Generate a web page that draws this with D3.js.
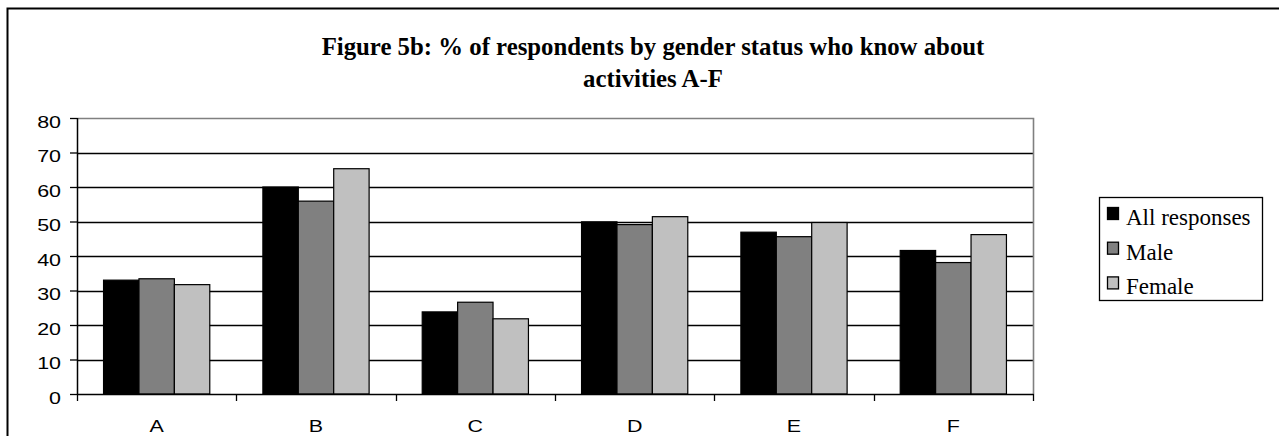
<!DOCTYPE html>
<html>
<head>
<meta charset="utf-8">
<script src="https://cdn.jsdelivr.net/npm/d3@7"></script>
<style>
  body { margin: 0; background: #fff; }
  svg { display: block; }
</style>
</head>
<body>
<script>
// chart data
const categories = ["A", "B", "C", "D", "E", "F"];
const seriesNames = ["All responses", "Male", "Female"];
const allResponses = [33.0, 60.0, 23.8, 49.9, 46.9, 41.6];
const male = [33.4, 55.9, 26.6, 49.1, 45.6, 38.1];
const female = [31.7, 65.3, 21.8, 51.4, 49.7, 46.2];
const yTicks = [0, 10, 20, 30, 40, 50, 60, 70, 80];
const titleLines = ["Figure 5b: % of respondents by gender status who know about", "activities A-F"];

const fills = ["#000000", "#808080", "#c0c0c0"];
const stretch = 1.3; // axis labels look horizontally widened

let svg = null;
let x, xs, y = null;
const plot = {left: 77, right: 1033, top: 118, bottom: 394};

appendSvg("body");
setupScales();
appendFrame();
appendGrid();
appendBars();
appendYAxis();
appendXAxis();
appendTitle();
appendLegend();

function appendSvg(domElement) {
  svg = d3.select(domElement).append("svg")
    .attr("width", 1279)
    .attr("height", 436);
}

function setupScales() {
  x = d3.scaleBand()
    .domain(categories)
    .range([plot.left, plot.right]);

  // excel default gap width 150% -> outer padding 0.75 of a bar
  xs = d3.scaleBand()
    .domain(seriesNames)
    .range([0, x.bandwidth()])
    .paddingInner(0)
    .paddingOuter(0.75);

  y = d3.scaleLinear()
    .domain([0, 80])
    .range([plot.bottom, plot.top]);
}

function appendFrame() {
  // outer chart border runs past the right and bottom of the picture
  svg.append("rect")
    .attr("x", 7.5).attr("y", 8.5)
    .attr("width", 1400).attr("height", 600)
    .attr("fill", "none")
    .attr("stroke", "#000")
    .attr("stroke-width", 2);
}

function appendGrid() {
  svg.append("g")
    .selectAll("line")
    .data(yTicks.filter(d => d > 0 && d < 80))
    .enter().append("line")
      .attr("x1", plot.left).attr("x2", plot.right)
      .attr("y1", d => Math.round(y(d)) + 0.5)
      .attr("y2", d => Math.round(y(d)) + 0.5)
      .attr("stroke", "#000")
      .attr("stroke-width", 1.3);

  // plot area border: top and right in grey
  svg.append("path")
    .attr("d", `M${plot.left},${y(80) + 0.5}H${plot.right + 0.5}V${plot.bottom}`)
    .attr("fill", "none")
    .attr("stroke", "#808080")
    .attr("stroke-width", 1.6);
}

function appendBars() {
  const values = [allResponses, male, female];
  const rows = [];
  categories.forEach((c, i) => {
    seriesNames.forEach((s, j) => {
      rows.push({cat: c, series: s, idx: j, value: values[j][i]});
    });
  });

  svg.append("g")
    .selectAll("rect")
    .data(rows)
    .enter().append("rect")
      .attr("x", d => x(d.cat) + xs(d.series))
      .attr("y", d => y(d.value))
      .attr("width", xs.bandwidth())
      .attr("height", d => y(0) - y(d.value))
      .attr("fill", d => fills[d.idx])
      .attr("stroke", "#000")
      .attr("stroke-width", 1.2);
}

function appendYAxis() {
  const g = svg.append("g")
    .attr("transform", `translate(${plot.left}, 0)`)
    .call(d3.axisLeft(y).tickValues(yTicks).tickSize(7).tickPadding(0));

  g.select(".domain")
    .attr("d", `M0.5,${plot.top}V${plot.bottom}`)
    .attr("stroke-width", 1.5);
  g.selectAll(".tick line").attr("stroke-width", 1.3);
  g.selectAll(".tick text")
    .attr("font-family", "'Liberation Sans', Arial, sans-serif")
    .attr("font-size", 16.5)
    .attr("fill", "#000")
    .attr("x", -16 / stretch)
    .attr("dy", 9)
    .attr("transform", `scale(${stretch},1)`);
}

function appendXAxis() {
  const g = svg.append("g")
    .attr("transform", `translate(0, ${plot.bottom})`)
    .call(d3.axisBottom(x).tickSize(0).tickPadding(0));

  g.select(".domain")
    .attr("d", `M${plot.left},0.5H${plot.right + 0.5}`)
    .attr("stroke-width", 1.5);
  g.selectAll(".tick text")
    .attr("font-family", "'Liberation Sans', Arial, sans-serif")
    .attr("font-size", 16.5)
    .attr("fill", "#000")
    .attr("x", 0)
    .attr("y", 38)
    .attr("dy", 0)
    .attr("transform", `scale(${stretch},1)`);

  // category divider ticks hang below the baseline
  const edges = categories.map(c => x(c)).concat([plot.right]);
  g.append("g")
    .selectAll("line")
    .data(edges)
    .enter().append("line")
      .attr("x1", d => Math.round(d) + 0.5).attr("x2", d => Math.round(d) + 0.5)
      .attr("y1", 0).attr("y2", 7)
      .attr("stroke", "#000")
      .attr("stroke-width", 1.3);
}

function appendTitle() {
  svg.append("g")
    .selectAll("text")
    .data(titleLines)
    .enter().append("text")
      .attr("x", 653)
      .attr("y", (d, i) => 55 + i * 31.7)
      .attr("text-anchor", "middle")
      .attr("font-family", "'Liberation Serif', 'Times New Roman', serif")
      .attr("font-weight", "bold")
      .attr("font-size", 24.8)
      .attr("fill", "#000")
      .text(d => d);
}

function appendLegend() {
  const lg = svg.append("g").attr("class", "legend");

  lg.append("rect")
    .attr("x", 1099.5).attr("y", 197.5)
    .attr("width", 163).attr("height", 103)
    .attr("fill", "#fff")
    .attr("stroke", "#000")
    .attr("stroke-width", 1.3);

  const items = lg.selectAll("g.item")
    .data(seriesNames)
    .enter().append("g")
      .attr("class", "item")
      .attr("transform", (d, i) => `translate(1107, ${207 + i * 34.7})`);

  items.append("rect")
    .attr("x", 0.5).attr("y", 0.5)
    .attr("width", 11).attr("height", 12)
    .attr("fill", (d, i) => fills[i])
    .attr("stroke", "#000")
    .attr("stroke-width", 1.3);

  items.append("text")
    .attr("x", 19)
    .attr("y", 18)
    .attr("font-family", "'Liberation Serif', 'Times New Roman', serif")
    .attr("font-size", 23)
    .attr("fill", "#000")
    .text(d => d);
}
</script>
</body>
</html>
